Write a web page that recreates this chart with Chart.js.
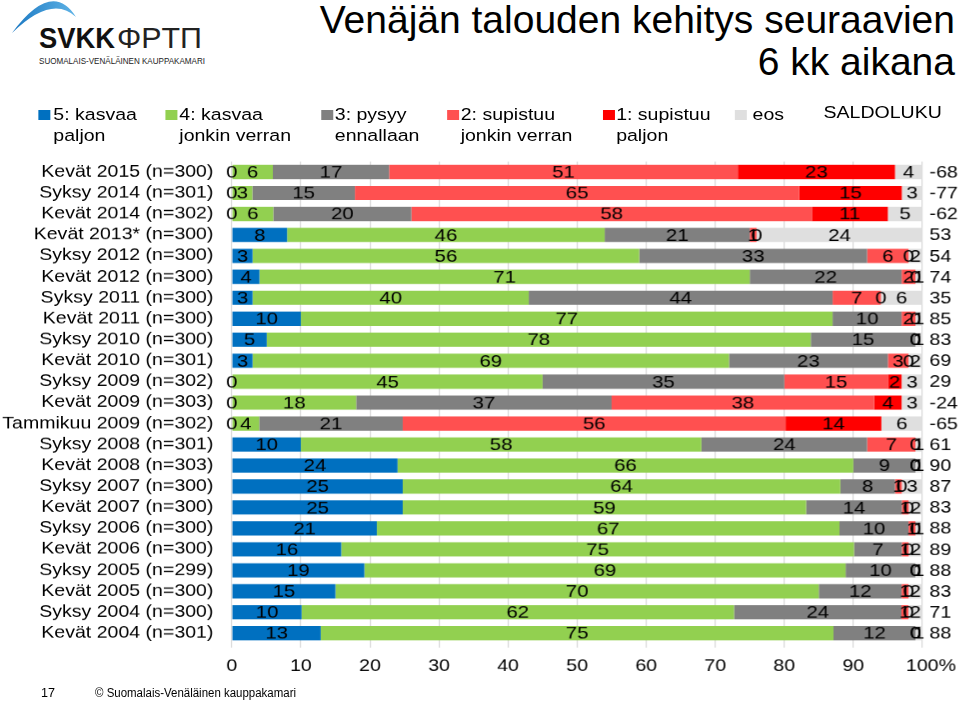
<!DOCTYPE html>
<html>
<head>
<meta charset="utf-8">
<script src="https://cdn.jsdelivr.net/npm/chart.js@4"></script>
<style>
  body { margin: 0; overflow: hidden; background: #fff; font-family: "Liberation Sans", Arial, sans-serif; }
  #page { position: relative; width: 959px; height: 701px; overflow: hidden; }
  #title { position: absolute; right: 4px; top: -1px; font-size: 39px; line-height: 42px; text-align: right; color: #000; }
  /* the original chart picture is stretched sideways, so the chart part is drawn narrower and widened */
  #stretch { position: absolute; left: 0; top: 0; width: 812px; height: 701px; transform: scaleX(1.19875); transform-origin: 0 0; }
  #chart { position: absolute; left: 0; top: 0; }
  .lg-box { position: absolute; width: 10px; height: 10px; top: 110px; }
  .lg-text { position: absolute; top: 104px; font-size: 16.3px; line-height: 21px; color: #000; white-space: pre; }
  svg { position: absolute; left: 0; top: 0; }
</style>
</head>
<body>
<div id="page">
  <svg width="230" height="70">
    <defs>
      <linearGradient id="arcGrad" x1="0" x2="1" y1="0" y2="0">
        <stop offset="0" stop-color="#1b78c2"/>
        <stop offset="1" stop-color="#5fb3e6"/>
      </linearGradient>
    </defs>
    <path d="M12,33 Q52,-21 76,17 Q52,-6 12,33 Z" fill="url(#arcGrad)"/>
    <text x="39" y="48" font-family="Liberation Sans, Arial, sans-serif" font-weight="bold" font-size="29" textLength="76" lengthAdjust="spacingAndGlyphs" fill="#111">SVKK</text>
    <text x="117" y="48" font-family="Liberation Sans, Arial, sans-serif" font-size="29" textLength="85" lengthAdjust="spacingAndGlyphs" fill="#222">ΦPTΠ</text>
    <text x="39" y="63.5" font-family="Liberation Sans, Arial, sans-serif" font-size="9" textLength="166" lengthAdjust="spacingAndGlyphs" fill="#222">SUOMALAIS-VENÄLÄINEN KAUPPAKAMARI</text>
  </svg>
  <div id="title">Venäjän talouden kehitys seuraavien<br>6 kk aikana</div>
  <div id="stretch">
    <canvas id="chart" width="812" height="701"></canvas>
  </div>
  <svg width="959" height="701" style="pointer-events:none">
    <text x="41" y="697" font-family="Liberation Sans, Arial, sans-serif" font-size="13" textLength="14" lengthAdjust="spacingAndGlyphs" fill="#000">17</text>
    <text x="95" y="697" font-family="Liberation Sans, Arial, sans-serif" font-size="12.5" textLength="201" lengthAdjust="spacingAndGlyphs" fill="#000">© Suomalais-Venäläinen kauppakamari</text>
  </svg>
</div>

<script>
// Categories (top to bottom)
const categories = [
    "Kevät 2015 (n=300)", "Syksy 2014 (n=301)", "Kevät 2014 (n=302)", "Kevät 2013* (n=300)",
    "Syksy 2012 (n=300)", "Kevät 2012 (n=300)", "Syksy 2011 (n=300)", "Kevät 2011 (n=300)",
    "Syksy 2010 (n=300)", "Kevät 2010 (n=301)", "Syksy 2009 (n=302)", "Kevät 2009 (n=303)",
    "Tammikuu 2009 (n=302)", "Syksy 2008 (n=301)", "Kevät 2008 (n=303)", "Syksy 2007 (n=300)",
    "Kevät 2007 (n=300)", "Syksy 2006 (n=300)", "Kevät 2006 (n=300)", "Syksy 2005 (n=299)",
    "Kevät 2005 (n=300)", "Syksy 2004 (n=300)", "Kevät 2004 (n=301)"
];

// Answer shares (%), one value per category
const kasvaaPaljon   = [0, 0, 0, 8, 3, 4, 3, 10, 5, 3, 0, 0, 0, 10, 24, 25, 25, 21, 16, 19, 15, 10, 13];
const kasvaaJonkin   = [6, 3, 6, 46, 56, 71, 40, 77, 78, 69, 45, 18, 4, 58, 66, 64, 59, 67, 75, 69, 70, 62, 75];
const pysyy          = [17, 15, 20, 21, 33, 22, 44, 10, 15, 23, 35, 37, 21, 24, 9, 8, 14, 10, 7, 10, 12, 24, 12];
const supistuuJonkin = [51, 65, 58, 1, 6, 2, 7, 2, 0, 3, 15, 38, 56, 7, 0, 1, 1, 1, 1, 0, 1, 1, 0];
const supistuuPaljon = [23, 15, 11, 0, 0, 0, 0, 0, 0, 0, 2, 4, 14, 0, 0, 0, 0, 0, 0, 0, 0, 0, 0];
const eos            = [4, 3, 5, 24, 2, 1, 6, 1, 1, 2, 3, 3, 6, 1, 1, 3, 2, 1, 2, 1, 2, 2, 1];
const saldo          = [-68, -77, -62, 53, 54, 74, 35, 85, 83, 69, 29, -24, -65, 61, 90, 87, 83, 88, 89, 88, 83, 71, 88];

const xTicks = [0, 10, 20, 30, 40, 50, 60, 70, 80, 90, 100];

const seriesNames = ["5: kasvaa\npaljon", "4: kasvaa\njonkin verran", "3: pysyy\nennallaan",
                     "2: supistuu\njonkin verran", "1: supistuu\npaljon", "eos"];
const seriesData = [kasvaaPaljon, kasvaaJonkin, pysyy, supistuuJonkin, supistuuPaljon, eos];
const seriesColors = ["#0070C0", "#92D050", "#808080", "#FF5050", "#FF0000", "#DFDFDF"];

const FONT = '"Liberation Sans", Arial, sans-serif';
Chart.defaults.font.family = FONT;
Chart.defaults.color = "#000";

// legend (html, inside the stretched box)
const stretch = document.getElementById("stretch");
const boxX = [31.8, 138.4, 268, 373, 503.2, 613.4];
const textX = [44.5, 149.6, 279.3, 384.3, 514, 627.8];
seriesNames.forEach((name, i) => {
    const box = document.createElement("div");
    box.className = "lg-box";
    box.style.left = boxX[i] + "px";
    box.style.background = seriesColors[i];
    stretch.appendChild(box);
    const txt = document.createElement("div");
    txt.className = "lg-text";
    txt.style.left = textX[i] + "px";
    txt.textContent = name;
    stretch.appendChild(txt);
});
const saldoHead = document.createElement("div");
saldoHead.className = "lg-text";
saldoHead.style.left = "687px";
saldoHead.style.top = "102px";
saldoHead.textContent = "SALDOLUKU";
stretch.appendChild(saldoHead);

// row totals, bars are shown as 100 % stacks like in the original
const totals = categories.map((c, i) => seriesData.reduce((s, arr) => s + arr[i], 0));

// values inside the bars + saldo column + "%" after the last tick
const labelPlugin = {
    id: "barLabels",
    afterDatasetsDraw(chart) {
        const ctx = chart.ctx;
        ctx.save();
        ctx.font = "17px " + FONT;
        ctx.fillStyle = "#000";
        ctx.textAlign = "center";
        ctx.textBaseline = "middle";
        chart.data.datasets.forEach((ds, di) => {
            const meta = chart.getDatasetMeta(di);
            meta.data.forEach((bar, i) => {
                const p = bar.getProps(["x", "base", "y"], true);
                ctx.fillText(String(seriesData[di][i]), (p.x + p.base) / 2, p.y + 1);
            });
        });
        const yScale = chart.scales.y;
        ctx.textAlign = "left";
        ctx.font = "16.3px " + FONT;
        saldo.forEach((v, i) => {
            ctx.fillText(String(v), chart.chartArea.right + 6, yScale.getPixelForValue(i) + 1);
        });
        ctx.restore();
    },
    afterDraw(chart) {
        const xScale = chart.scales.x;
        const items = xScale.getLabelItems ? xScale.getLabelItems() : [];
        const last = items[items.length - 1];
        if (!last) return;
        const ctx = chart.ctx;
        ctx.save();
        ctx.font = "16.3px " + FONT;
        ctx.fillStyle = "#000";
        ctx.textAlign = "left";
        ctx.textBaseline = last.options.textBaseline || "top";
        const w = ctx.measureText("100").width;
        const tr = last.options.translation;
        ctx.fillText("%", tr[0] + w / 2, tr[1] + (last.textOffset || 0));
        ctx.restore();
    }
};

const ctx = document.getElementById("chart").getContext("2d");
new Chart(ctx, {
    type: "bar",
    data: {
        labels: categories,
        datasets: seriesData.map((arr, k) => ({
            label: seriesNames[k],
            data: arr.map((v, i) => v / totals[i] * 100),
            backgroundColor: seriesColors[k],
            borderWidth: 0,
            barPercentage: 0.68,
            categoryPercentage: 1
        }))
    },
    options: {
        indexAxis: "y",
        responsive: false,
        animation: false,
        devicePixelRatio: 1.2,
        events: [],
        layout: { padding: { top: 161.5, right: 42.9, bottom: 0, left: 0 } },
        plugins: {
            legend: { display: false },
            tooltip: { enabled: false },
            title: { display: false }
        },
        scales: {
            x: {
                stacked: true,
                min: 0,
                max: 100,
                afterBuildTicks: scale => { scale.ticks = xTicks.map(v => ({ value: v })); },
                afterFit: scale => { scale.height = 57.5; },
                grid: { color: "#D9D9D9", lineWidth: 1, tickLength: 4 },
                border: { display: false },
                ticks: { font: { size: 16.3 }, color: "#000", padding: 9, maxRotation: 0 }
            },
            y: {
                stacked: true,
                afterFit: scale => { scale.width = 193.3; },
                grid: { display: false, drawTicks: false },
                border: { display: false },
                ticks: { font: { size: 16.3 }, color: "#000", padding: 15.4, autoSkip: false }
            }
        }
    },
    plugins: [labelPlugin]
});
</script>
</body>
</html>
